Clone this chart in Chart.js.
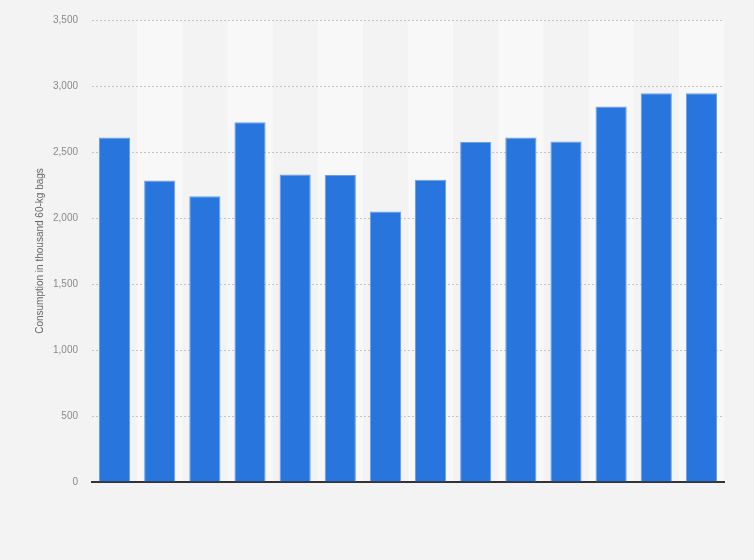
<!DOCTYPE html>
<html>
<head>
<meta charset="utf-8">
<script src="https://cdn.jsdelivr.net/npm/chart.js@4"></script>
<style>
    html, body { margin: 0; padding: 0; background: #f3f3f3; }
    #wrap { width: 754px; height: 560px; }
</style>
</head>
<body>
<div id="wrap"><canvas id="consumptionChart" width="754" height="560"></canvas></div>
<script>
// x labels are not shown in the picture, so the categories are just positions
const categories = ['1', '2', '3', '4', '5', '6', '7', '8', '9', '10', '11', '12', '13', '14'];
const consumption = [2610, 2285, 2165, 2725, 2330, 2325, 2050, 2290, 2575, 2610, 2580, 2845, 2945, 2945];
const yTicks = [0, 500, 1000, 1500, 2000, 2500, 3000, 3500];
const yTitle = 'Consumption in thousand 60-kg bags';

// alternating column shading behind grid and bars
const bandsPlugin = {
    id: 'bands',
    beforeDraw(chart) {
        const { ctx, chartArea, scales } = chart;
        const x = scales.x;
        const step = (chartArea.right - chartArea.left) / categories.length;
        ctx.save();
        ctx.fillStyle = '#f8f8f8';
        categories.forEach((c, i) => {
            if (i % 2 === 1) {
                const cx = x.getPixelForValue(i);
                ctx.fillRect(cx - step / 2, chartArea.top, step, chartArea.bottom - chartArea.top);
            }
        });
        ctx.restore();
    }
};

const ctx = document.getElementById('consumptionChart').getContext('2d');
new Chart(ctx, {
    type: 'bar',
    data: {
        labels: categories,
        datasets: [{
            data: consumption,
            backgroundColor: '#2876dd',
            borderColor: '#6a9fe8',
            borderWidth: 1,
            barPercentage: 0.69,
            categoryPercentage: 1
        }]
    },
    plugins: [bandsPlugin],
    options: {
        responsive: false,
        animation: false,
        layout: {
            padding: { left: 34, right: 30, top: 20, bottom: 70 }
        },
        plugins: {
            legend: { display: false },
            tooltip: { enabled: false }
        },
        scales: {
            x: {
                ticks: { display: false },
                grid: { display: false },
                border: { display: true, color: '#333333', width: 2 }
            },
            y: {
                min: 0,
                max: 3500,
                afterBuildTicks: (scale) => {
                    scale.ticks = yTicks.map(v => ({ value: v }));
                },
                afterFit: (scale) => { scale.width = 58; },
                ticks: {
                    padding: 14,
                    color: '#8a8a8a',
                    font: { family: 'Arial, "Liberation Sans"', size: 10 },
                    callback: (v) => v.toLocaleString('en-US')
                },
                grid: {
                    color: '#c4c4c4',
                    drawTicks: false
                },
                border: { display: false, dash: [2, 2] },
                title: {
                    display: true,
                    text: yTitle,
                    color: '#666666',
                    font: { family: 'Arial, "Liberation Sans"', size: 10 },
                    padding: { top: 0, bottom: 0 }
                }
            }
        }
    }
});
</script>
</body>
</html>
